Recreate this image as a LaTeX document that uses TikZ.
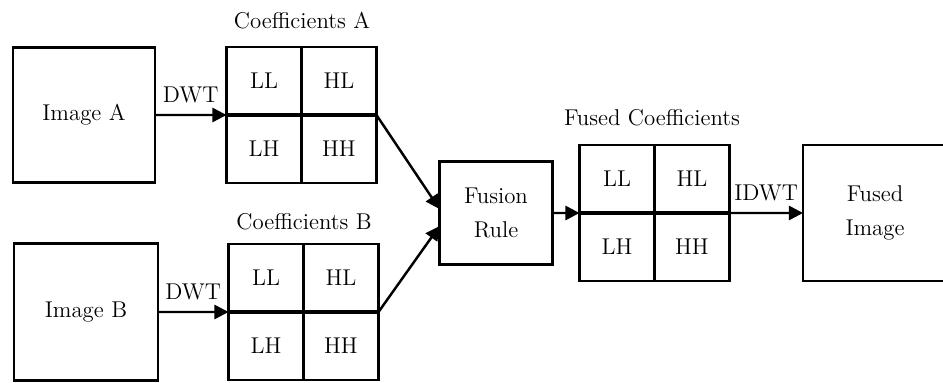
\documentclass[tikz,border=0pt]{standalone}
\usepackage{fontspec}
\usetikzlibrary{arrows.meta, positioning}

\begin{document}
\begin{tikzpicture}[x=0.02cm,y=-0.02cm,->,>={Triangle[length=8pt,width=8pt]},line width=1.4pt,
		font=\fontsize{13}{19}\selectfont,
		box/.style={draw,rectangle,inner sep=0pt,outer sep=0pt,align=center},
		cell/.style={box,minimum width=1.5cm,minimum height=1.36cm}]
			\useasboundingbox (0,0) rectangle (943,382);
			% input images
			\node[box, minimum width=2.84cm, minimum height=2.7cm]  (ima) at (84,115) {Image A};
			\node[box, minimum width=2.88cm, minimum height=2.74cm] (imb) at (86,312) {Image B};
			% wavelet coefficients of A
			\node[cell] (all) at (264,81) {LL};
			\node[cell, right=0pt of all] (ahl) {HL};
			\node[cell, below=0pt of all] (alh) {LH};
			\node[cell, right=0pt of alh] (ahh) {HH};
			\node (capa) at (302,21) {Coefficients A};
			% wavelet coefficients of B
			\node[cell] (bll) at (266,278) {LL};
			\node[cell, right=0pt of bll] (bhl) {HL};
			\node[cell, below=0pt of bll] (blh) {LH};
			\node[cell, right=0pt of blh] (bhh) {HH};
			\node (capb) at (304,222) {Coefficients B};
			% fusion and fused coefficients
			\node[box, minimum width=2.26cm, minimum height=2.06cm] (fus) at (496,213) {Fusion\\Rule};
			\node[cell] (fll) at (617,179) {LL};
			\node[cell, right=0pt of fll] (fhl) {HL};
			\node[cell, below=0pt of fll] (flh) {LH};
			\node[cell, right=0pt of flh] (fhh) {HH};
			\node (capf) at (652,118) {Fused Coefficients};
			\node[box, minimum width=2.88cm, minimum height=2.72cm] (out) at (875,213) {Fused\\Image};
			% bold middle lines of the grids
			\draw[-, line width=2.2pt] (all.south west) -- (ahl.south east);
			\draw[-, line width=2.2pt] (bll.south west) -- (bhl.south east);
			\draw[-, line width=2.2pt] (fll.south west) -- (fhl.south east);
			% connectors
			\draw (ima) -- node[above=3pt] {DWT} (all.south west);
			\draw (imb) -- node[above=3pt] {DWT} (bll.south west);
			\draw (ahl.south east) -- (fus.176);
			\draw (bhl.south east) -- (fus.193);
			\draw (fus) -- (fll.south west);
			\draw (fhl.south east) -- node[above=3pt] {IDWT} (out);
		\end{tikzpicture}
\end{document}
